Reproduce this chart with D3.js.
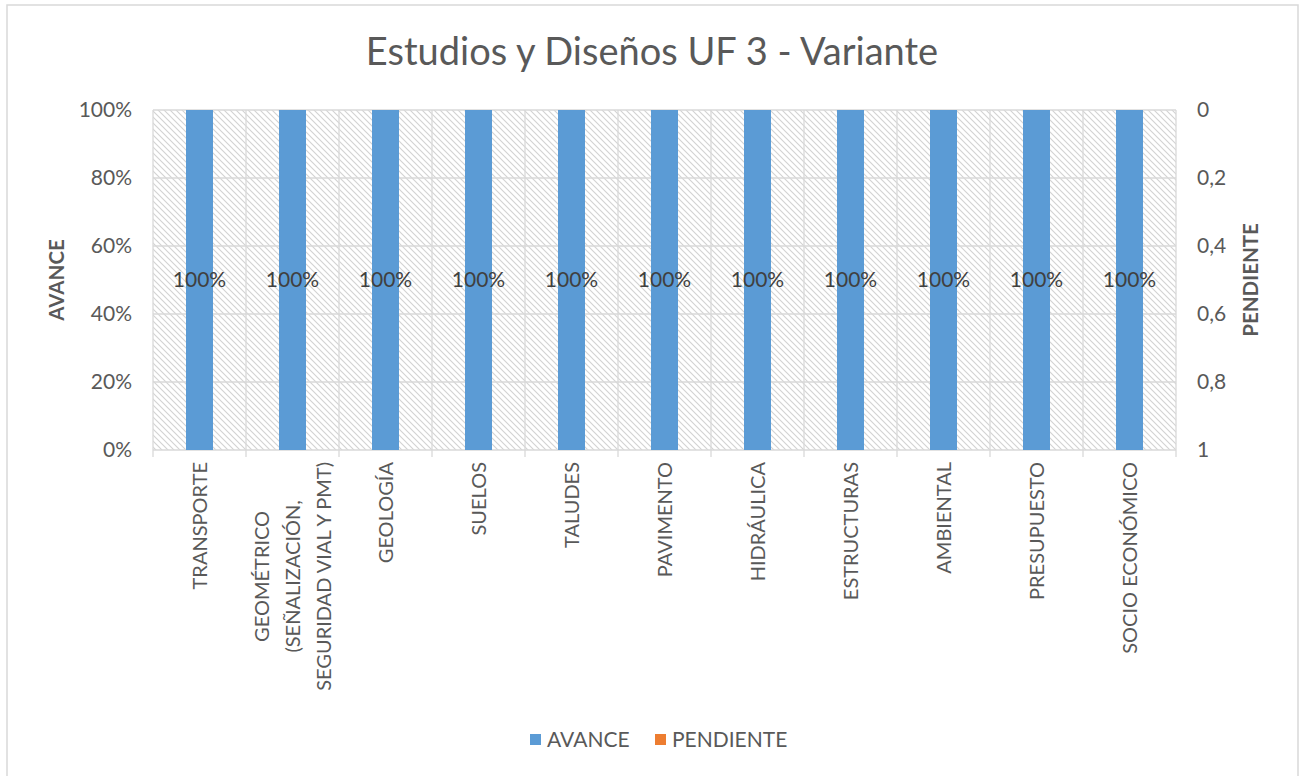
<!DOCTYPE html>
<html><head><meta charset="utf-8">
<script src="https://cdn.jsdelivr.net/npm/d3@7"></script>
<style>body{margin:0;background:#fff}svg{display:block}text{font-family:Lato,"Open Sans",sans-serif}</style>
</head><body>
<svg id="c" width="1301" height="776"></svg>
<script>
const categories = ["TRANSPORTE","GEOMÉTRICO\n(SEÑALIZACIÓN,\nSEGURIDAD VIAL Y PMT)","GEOLOGÍA","SUELOS","TALUDES","PAVIMENTO","HIDRÁULICA","ESTRUCTURAS","AMBIENTAL","PRESUPUESTO","SOCIO ECONÓMICO"];
const avance = [1,1,1,1,1,1,1,1,1,1,1];
const pendiente = [0,0,0,0,0,0,0,0,0,0,0];
const leftTicks = [0,0.2,0.4,0.6,0.8,1];
const rightTicks = [0,0.2,0.4,0.6,0.8,1];
const seriesNames = ["AVANCE","PENDIENTE"];
const colors = ["#5B9BD5","#ED7D31"];
const title = "Estudios y Diseños UF 3 - Variante";

const svg = d3.select("#c");
const m={l:153,r:1176,t:110,b:450};
const txt="#595959";

svg.append("rect").attr("x",7).attr("y",5).attr("width",1291).attr("height",790)
  .attr("fill","#fff").attr("stroke","#d9d9d9").attr("stroke-width",1.5);

const defs=svg.append("defs");
const pat=defs.append("pattern").attr("id","hatch").attr("patternUnits","userSpaceOnUse").attr("width",6).attr("height",6);
pat.append("rect").attr("width",6).attr("height",6).attr("fill","#fff");
pat.append("path").attr("d","M-1,-1 L7,7 M-4,2 L1,7 M2,-4 L7,1").attr("stroke","#d2d2d2").attr("stroke-width",1.1);

const x=d3.scaleBand().domain(categories).range([m.l,m.r]).paddingInner(0).paddingOuter(0);
const yL=d3.scaleLinear().domain([0,1]).range([m.b,m.t]);
const yR=d3.scaleLinear().domain([0,1]).range([m.t,m.b]);

svg.append("rect").attr("x",m.l).attr("y",m.t).attr("width",m.r-m.l).attr("height",m.b-m.t).attr("fill","url(#hatch)");

svg.append("g").selectAll("line").data(leftTicks).join("line")
  .attr("x1",m.l).attr("x2",m.r).attr("y1",d=>yL(d)).attr("y2",d=>yL(d))
  .attr("stroke","#d9d9d9").attr("stroke-width",1.3);
const bounds=categories.map(c=>x(c)).concat([m.r]);
svg.append("g").selectAll("line").data(bounds).join("line")
  .attr("x1",d=>d).attr("x2",d=>d).attr("y1",m.t).attr("y2",m.b+7)
  .attr("stroke","#d9d9d9").attr("stroke-width",1.3);

const bw=27;
svg.append("g").selectAll("rect").data(categories).join("rect")
  .attr("x",(c)=>x(c)+x.bandwidth()/2-bw/2).attr("width",bw)
  .attr("y",(c,i)=>yL(avance[i])).attr("height",(c,i)=>yL(0)-yL(avance[i]))
  .attr("fill",colors[0]);
svg.append("g").selectAll("rect").data(categories).join("rect")
  .attr("x",(c)=>x(c)+x.bandwidth()/2-bw/2).attr("width",bw)
  .attr("y",m.t).attr("height",(c,i)=>yR(pendiente[i])-yR(0))
  .attr("fill",colors[1]);

svg.append("g").selectAll("text").data(categories).join("text")
  .attr("x",c=>x(c)+x.bandwidth()/2).attr("y",(c,i)=>(yL(avance[i])+yL(0))/2+7)
  .attr("text-anchor","middle").attr("font-size",21).attr("fill","#404040")
  .text((c,i)=>d3.format(".0%")(avance[i]));

svg.append("g").selectAll("text").data(leftTicks).join("text")
  .attr("x",132).attr("y",d=>yL(d)+7).attr("text-anchor","end").attr("font-size",21).attr("fill",txt)
  .text(d=>d3.format(".0%")(d));
svg.append("g").selectAll("text").data(rightTicks).join("text")
  .attr("x",1197).attr("y",d=>yR(d)+7).attr("text-anchor","start").attr("font-size",21).attr("fill",txt)
  .text(d=>String(d).replace(".",","));

svg.append("text").attr("transform",`translate(64,${(m.t+m.b)/2}) rotate(-90)`).attr("text-anchor","middle")
  .attr("font-size",20.5).attr("font-weight","bold").attr("fill",txt).text(seriesNames[0]);
svg.append("text").attr("transform",`translate(1258,${(m.t+m.b)/2}) rotate(-90)`).attr("text-anchor","middle")
  .attr("font-size",20.5).attr("font-weight","bold").attr("fill",txt).text(seriesNames[1]);

const lh=31, top0=462;
categories.forEach(c=>{
  const lines=c.split("\n");
  const g=svg.append("g");
  const cx=x(c)+x.bandwidth()/2;
  const ts=lines.map(l=>g.append("text").attr("font-size",20).attr("fill",txt).attr("text-anchor","middle").text(l));
  const maxLen=d3.max(ts,t=>t.node().getComputedTextLength());
  const n=lines.length;
  ts.forEach((t,j)=>{
    const bx=cx+7+(j-(n-1)/2)*lh;
    t.attr("transform",`translate(${bx},${top0+maxLen/2}) rotate(-90)`);
  });
});

svg.append("text").attr("x",652).attr("y",65).attr("text-anchor","middle").attr("font-size",38).attr("fill",txt).text(title);

const leg=svg.append("g");
const lx=[530,655];
seriesNames.forEach((s,i)=>{
  leg.append("rect").attr("x",lx[i]).attr("y",734).attr("width",11).attr("height",11).attr("fill",colors[i]);
  leg.append("text").attr("x",lx[i]+17).attr("y",747).attr("font-size",21).attr("fill",txt).text(s);
});
</script>
</body></html>
